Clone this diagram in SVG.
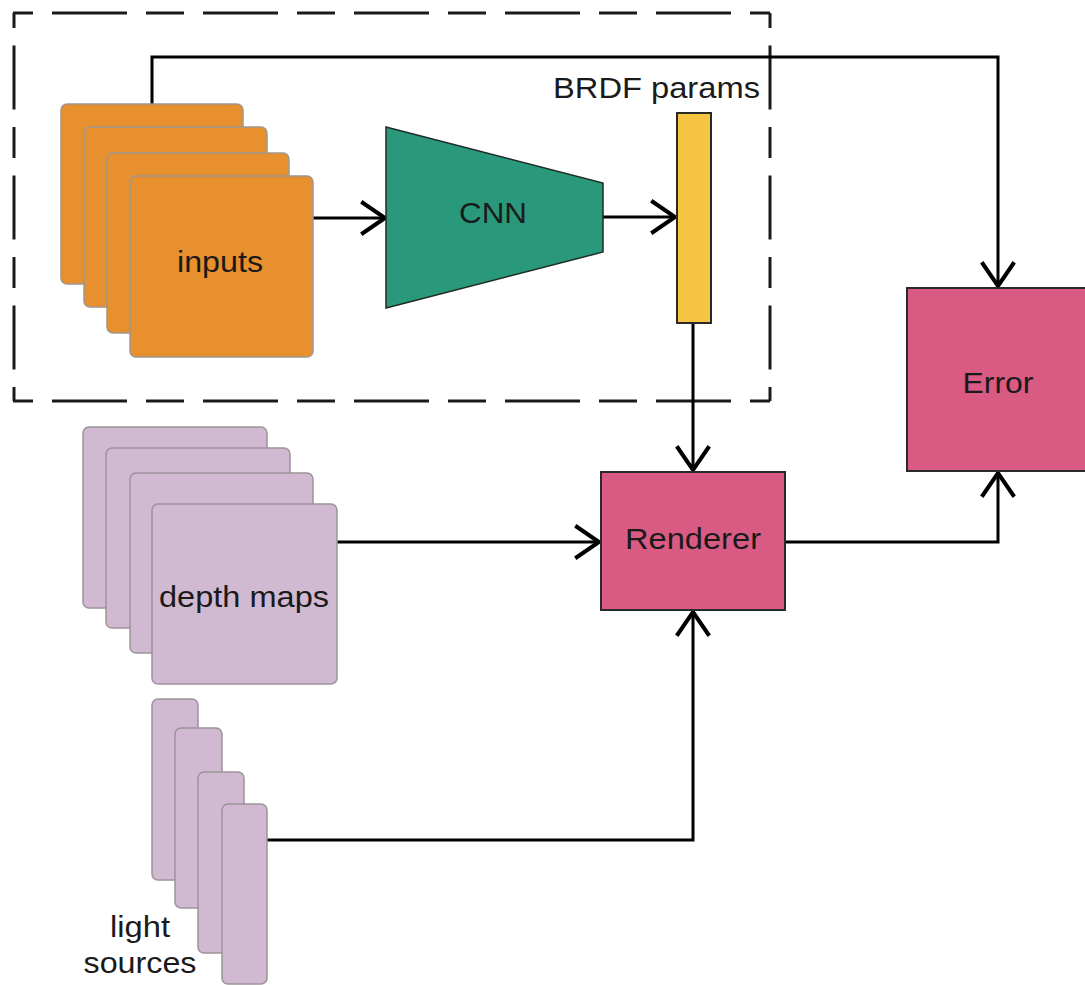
<svg xmlns="http://www.w3.org/2000/svg" width="1085" height="985" viewBox="0 0 1085 985">
<style>
.lbl{font-family:"Liberation Sans",Arial,sans-serif;font-size:30px;fill:#1a1a1a;text-anchor:middle}
.card-in{fill:#E8902E;stroke:#a0968c;stroke-width:1.5}
.card-lv{fill:#D1B9D2;stroke:#9c9499;stroke-width:1.5}
.box{fill:#D95B84;stroke:#2a2a2a;stroke-width:2}
.conn{fill:none;stroke:#000;stroke-width:3}
.dashh{fill:none;stroke:#1a1a1a;stroke-width:3;stroke-dasharray:38 19 75 19;stroke-dashoffset:18}
.dashv{fill:none;stroke:#1a1a1a;stroke-width:3;stroke-dasharray:31 17.5 64 17.5;stroke-dashoffset:16}
</style>
<defs>
<marker id="arr" markerUnits="userSpaceOnUse" markerWidth="40" markerHeight="40" refX="0" refY="0" viewBox="-22 -16 26 32" orient="auto" overflow="visible">
<path d="M-19,-13 L0,0 L-19,13" fill="none" stroke="#000" stroke-width="3.2"/>
</marker>
</defs>

<g id="frame">
<path class="dashh" d="M13 13 H770"/>
<path class="dashh" d="M13 401 H770"/>
<path class="dashv" d="M14 13 V401"/>
<path class="dashv" d="M770 13 V401"/>
</g>

<g id="connectors">
<path class="conn" d="M152 104 V57 H998 V286" marker-end="url(#arr)"/>
<path class="conn" d="M313 218 H385" marker-end="url(#arr)"/>
<path class="conn" d="M603 217 H675" marker-end="url(#arr)"/>
<path class="conn" d="M693 323 V470" marker-end="url(#arr)"/>
<path class="conn" d="M337 542 H599" marker-end="url(#arr)"/>
<path class="conn" d="M785 542 H998 V473" marker-end="url(#arr)"/>
<path class="conn" d="M267 840 H693 V612" marker-end="url(#arr)"/>
</g>

<g id="inputs">
<rect class="card-in" x="61" y="104" width="182" height="180" rx="6"/>
<rect class="card-in" x="84" y="127" width="183" height="180" rx="6"/>
<rect class="card-in" x="107" y="153" width="182" height="180" rx="6"/>
<rect class="card-in" x="130" y="176" width="183" height="181" rx="6"/>
<text class="lbl" x="220" y="272" textLength="86" lengthAdjust="spacingAndGlyphs">inputs</text>
</g>

<g id="cnn">
<polygon points="386,127 603,183 603,252 386,308" fill="#2A997B" stroke="#1e2b27" stroke-width="1.5"/>
<text class="lbl" x="493" y="223" textLength="68" lengthAdjust="spacingAndGlyphs">CNN</text>
</g>

<g id="brdf">
<rect x="677" y="113" width="34" height="210" fill="#F5C440" stroke="#2a2a2a" stroke-width="2"/>
<text class="lbl" x="656.5" y="98" textLength="207" lengthAdjust="spacingAndGlyphs">BRDF params</text>
</g>

<g id="renderer">
<rect class="box" x="601" y="472" width="184" height="138"/>
<text class="lbl" x="693" y="549" textLength="136" lengthAdjust="spacingAndGlyphs">Renderer</text>
</g>

<g id="error">
<rect class="box" x="907" y="288" width="184" height="183"/>
<text class="lbl" x="998" y="393" textLength="71" lengthAdjust="spacingAndGlyphs">Error</text>
</g>

<g id="depth-maps">
<rect class="card-lv" x="83" y="427" width="184" height="181" rx="6"/>
<rect class="card-lv" x="106" y="448" width="184" height="180" rx="6"/>
<rect class="card-lv" x="130" y="473" width="183" height="180" rx="6"/>
<rect class="card-lv" x="152" y="504" width="185" height="180" rx="6"/>
<text class="lbl" x="244" y="607" textLength="170" lengthAdjust="spacingAndGlyphs">depth maps</text>
</g>

<g id="light-sources">
<rect class="card-lv" x="152" y="699" width="46" height="181" rx="6"/>
<rect class="card-lv" x="175" y="728" width="47" height="180" rx="6"/>
<rect class="card-lv" x="198" y="772" width="46" height="181" rx="6"/>
<rect class="card-lv" x="222" y="804" width="45" height="180" rx="6"/>
<text class="lbl" x="140" y="937" textLength="60" lengthAdjust="spacingAndGlyphs">light</text>
<text class="lbl" x="140" y="973" textLength="113" lengthAdjust="spacingAndGlyphs">sources</text>
</g>
</svg>
